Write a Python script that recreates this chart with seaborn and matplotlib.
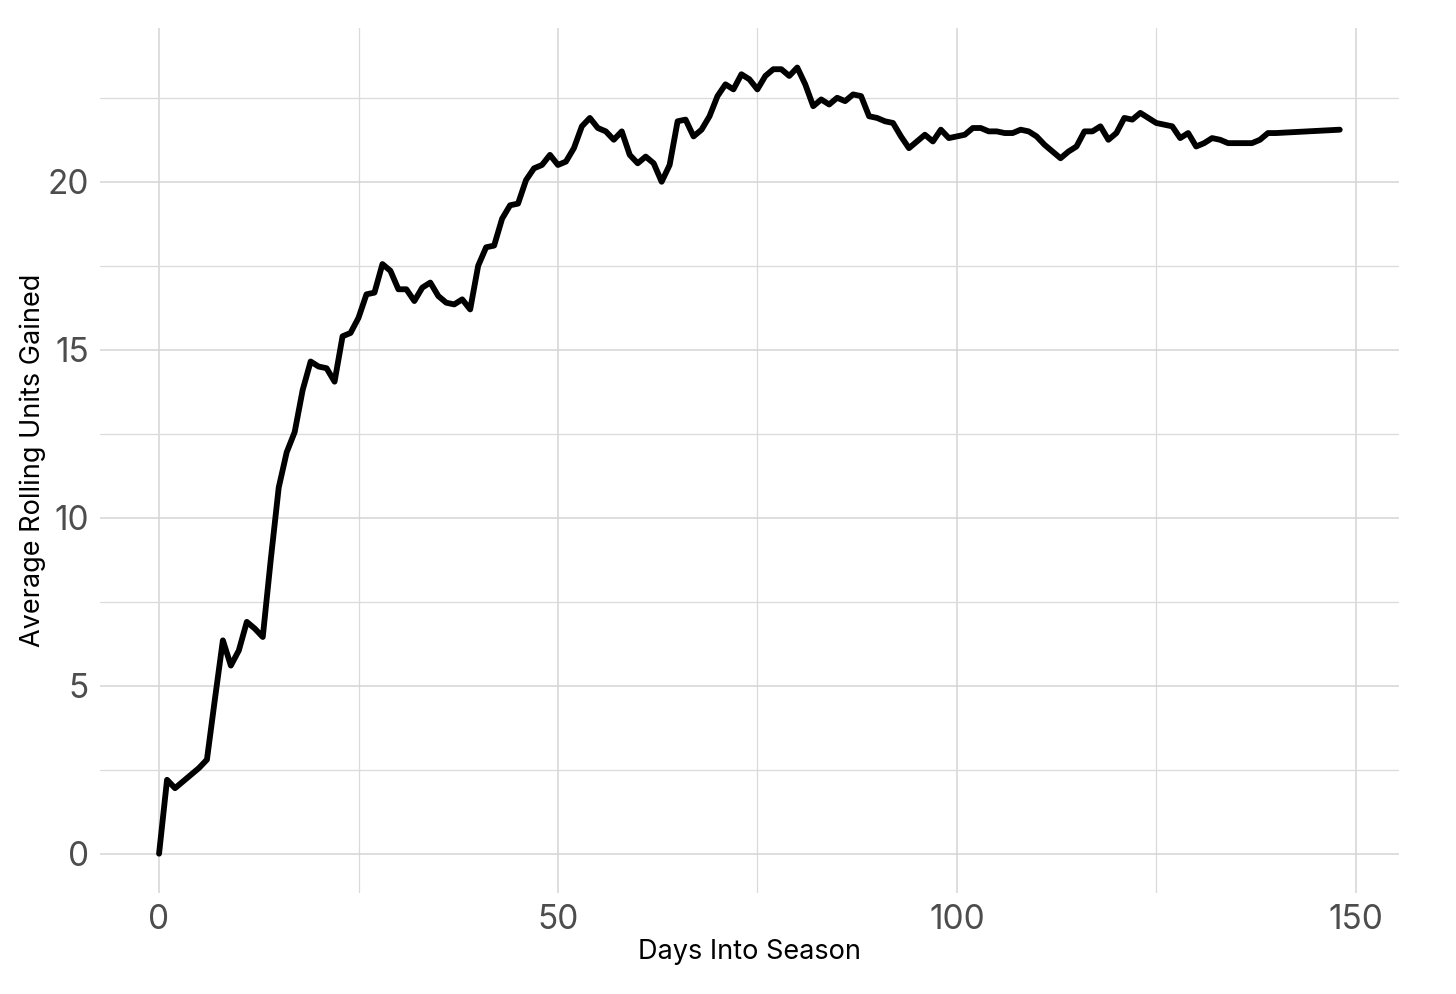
import numpy as np
import pandas as pd
import matplotlib
matplotlib.use("Agg")
import matplotlib.pyplot as plt
import seaborn as sns
from matplotlib.ticker import MultipleLocator

# --- data ---
days = list(range(0, 141)) + [148]
units = [
    0.0, 2.2, 1.95, 2.15, 2.35, 2.55, 2.8, 4.6, 6.35, 5.6,
    6.05, 6.9, 6.7, 6.45, 8.75, 10.9, 11.95, 12.55, 13.8, 14.65,
    14.5, 14.45, 14.05, 15.4, 15.5, 15.95, 16.65, 16.7, 17.55, 17.35,
    16.8, 16.8, 16.45, 16.85, 17.0, 16.6, 16.4, 16.35, 16.5, 16.2,
    17.5, 18.05, 18.1, 18.9, 19.3, 19.35, 20.05, 20.4, 20.5, 20.8,
    20.5, 20.6, 21.0, 21.65, 21.9, 21.6, 21.5, 21.25, 21.5, 20.8,
    20.55, 20.75, 20.55, 20.0, 20.5, 21.8, 21.85, 21.35, 21.55, 21.95,
    22.55, 22.9, 22.75, 23.2, 23.05, 22.75, 23.15, 23.35, 23.35, 23.15,
    23.4, 22.9, 22.25, 22.45, 22.3, 22.5, 22.4, 22.6, 22.55, 21.95,
    21.9, 21.8, 21.75, 21.35, 21.0, 21.2, 21.4, 21.2, 21.55, 21.3,
    21.35, 21.4, 21.6, 21.6, 21.5, 21.5, 21.45, 21.45, 21.55, 21.5,
    21.35, 21.1, 20.9, 20.7, 20.9, 21.05, 21.5, 21.5, 21.65, 21.25,
    21.45, 21.9, 21.85, 22.05, 21.9, 21.75, 21.7, 21.65, 21.3, 21.45,
    21.05, 21.15, 21.3, 21.25, 21.15, 21.15, 21.15, 21.15, 21.25, 21.45,
    21.45, 21.55,
]

df = pd.DataFrame({"day": days, "units": units})

sns.set_theme(style="white")
plt.rcParams["font.family"] = ["Inter", "DejaVu Sans"]

fig = plt.figure(figsize=(14.56, 9.94), dpi=100)
ax = fig.add_axes([0.0687, 0.1016, 0.892, 0.870])

sns.lineplot(data=df, x="day", y="units", ax=ax, color="black", linewidth=4.2)

ax.set_xlim(-7.4, 155.4)
ax.set_ylim(-1.17, 24.57)
ax.xaxis.set_major_locator(MultipleLocator(50))
ax.xaxis.set_minor_locator(MultipleLocator(25))
ax.yaxis.set_major_locator(MultipleLocator(5))
ax.yaxis.set_minor_locator(MultipleLocator(2.5))

ax.grid(which="major", color="#d4d4d4", linewidth=1.1)
ax.grid(which="minor", color="#dadada", linewidth=0.9)
ax.set_axisbelow(True)
for s in ax.spines.values():
    s.set_visible(False)

ax.tick_params(which="both", length=0, labelsize=24, labelcolor="#4d4d4d", pad=8)
ax.set_xlabel("Days Into Season", fontsize=19.5, color="black", labelpad=2)
ax.set_ylabel("Average Rolling Units Gained", fontsize=19.5, color="black", labelpad=1)

fig.savefig("out.png", dpi=100)
